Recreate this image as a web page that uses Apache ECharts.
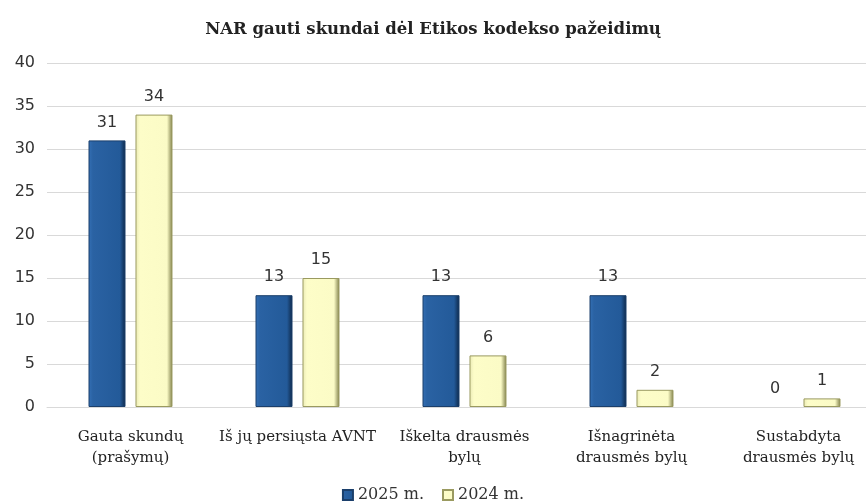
<!DOCTYPE html>
<html>
<head>
<meta charset="utf-8">
<script src="https://cdn.jsdelivr.net/npm/echarts@6/dist/echarts.min.js"></script>
<style>
  html, body { margin: 0; padding: 0; background: #fff; }
  #chart { width: 866px; height: 501px; }
</style>
</head>
<body>
<div id="chart"></div>
<script>
// chart data
const categories = [
  'Gauta skundų\n(prašymų)',
  'Iš jų persiųsta AVNT',
  'Iškelta drausmės\nbylų',
  'Išnagrinėta\ndrausmės bylų',
  'Sustabdyta\ndrausmės bylų'
];
const values2025 = [31, 13, 13, 13, 0];
const values2024 = [34, 15, 6, 2, 1];
const seriesNames = ['2025 m.', '2024 m.'];

const blueFill = new echarts.graphic.LinearGradient(0, 0, 1, 0, [
  { offset: 0, color: '#3470b5' },
  { offset: 0.12, color: '#2a62a3' },
  { offset: 0.85, color: '#235a99' },
  { offset: 1, color: '#0d2747' }
]);
const yellowFill = new echarts.graphic.LinearGradient(0, 0, 1, 0, [
  { offset: 0, color: '#e9e9b5' },
  { offset: 0.12, color: '#fdfdc8' },
  { offset: 0.85, color: '#fbfbc6' },
  { offset: 1, color: '#7d7d48' }
]);

const labelStyle = {
  show: true,
  position: 'top',
  distance: 10,
  fontFamily: 'DejaVu Sans',
  fontSize: 16,
  color: '#333'
};

// zero-height bars get no outline, like the reference
const toBarData = (arr) =>
  arr.map((v) => (v === 0 ? { value: v, itemStyle: { borderWidth: 0 } } : v));

const chart = echarts.init(document.getElementById('chart'));
chart.setOption({
  animation: false,
  title: {
    text: 'NAR gauti skundai dėl Etikos kodekso pažeidimų',
    left: 'center',
    top: 16,
    textStyle: {
      fontFamily: 'DejaVu Serif',
      fontWeight: 'bold',
      fontSize: 16.5,
      color: '#222'
    }
  },
  legend: {
    top: 482,
    left: 'center',
    icon: 'rect',
    itemWidth: 10,
    itemHeight: 10,
    itemGap: 18,
    data: seriesNames,
    textStyle: {
      fontFamily: 'DejaVu Serif',
      fontSize: 16,
      color: '#333'
    }
  },
  grid: { left: 47, top: 63, width: 835, height: 344, outerBoundsMode: 'none' },
  xAxis: {
    type: 'category',
    data: categories,
    axisLine: { lineStyle: { color: '#d9d9d9' } },
    axisTick: { show: false },
    axisLabel: {
      interval: 0,
      margin: 20,
      fontFamily: 'DejaVu Serif',
      fontSize: 15,
      lineHeight: 21,
      color: '#222'
    }
  },
  yAxis: {
    type: 'value',
    min: 0,
    max: 40,
    interval: 5,
    axisLine: { show: false },
    axisTick: { show: false },
    splitLine: { lineStyle: { color: '#d9d9d9' } },
    axisLabel: {
      margin: 12,
      fontFamily: 'DejaVu Sans',
      fontSize: 16,
      color: '#333'
    }
  },
  series: [
    {
      name: seriesNames[0],
      type: 'bar',
      data: toBarData(values2025),
      barWidth: 37,
      barGap: '27%',
      itemStyle: { color: blueFill, borderColor: '#1b3f6b', borderWidth: 1 },
      label: labelStyle
    },
    {
      name: seriesNames[1],
      type: 'bar',
      data: toBarData(values2024),
      barWidth: 37,
      itemStyle: { color: yellowFill, borderColor: '#9a9a60', borderWidth: 1 },
      label: labelStyle
    }
  ]
});
</script>
</body>
</html>
